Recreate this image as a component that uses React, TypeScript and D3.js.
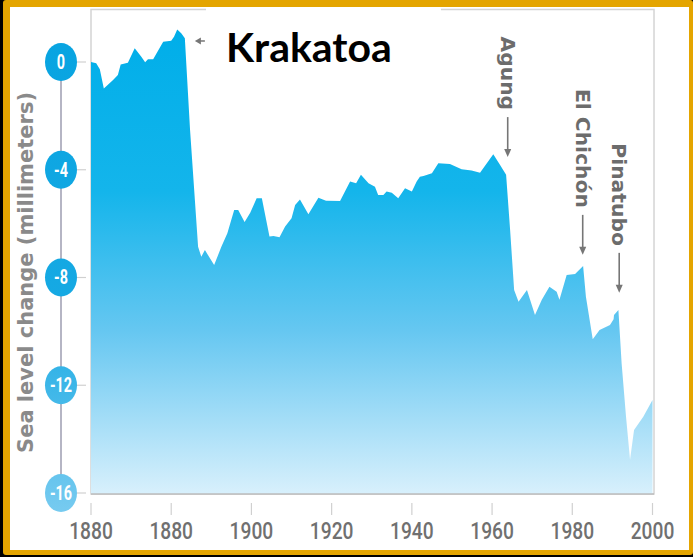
import React from "react";
import * as d3 from "d3";

// ---- data ----
const years = [
  1860.0, 1861.3, 1862.2, 1863.2, 1865.5, 1866.7, 1867.4, 1869.2, 1870.9, 1872.5,
  1873.5, 1874.2, 1875.5, 1878.0, 1880.0, 1880.7, 1881.5, 1882.5, 1883.4, 1884.7,
  1885.9, 1886.7, 1887.5, 1888.4, 1890.7, 1892.5, 1894.0, 1895.7, 1896.7, 1898.3,
  1899.7, 1901.3, 1902.6, 1904.5, 1905.5, 1907.0, 1908.4, 1910.0, 1910.9, 1912.1,
  1914.2, 1916.7, 1918.6, 1922.1, 1924.6, 1926.1, 1927.3, 1929.2, 1930.8, 1931.6,
  1932.9, 1933.7, 1935.0, 1936.6, 1938.3, 1940.0, 1941.2, 1942.0, 1942.9, 1945.0,
  1946.6, 1949.5, 1952.4, 1954.9, 1957.0, 1960.3, 1962.0, 1963.5, 1964.5, 1965.5,
  1966.6, 1968.7, 1970.7, 1972.4, 1974.3, 1976.1, 1976.8, 1978.6, 1980.7, 1982.7,
  1983.4, 1985.1, 1986.8, 1989.4, 1990.3, 1990.4, 1991.5, 1992.3, 1993.4, 1994.4,
  1995.4, 1997.7, 2000.0,
];
const seaLevel = [
  0.0, -0.05, -0.27, -0.98, -0.67, -0.48, -0.09, -0.03, 0.51, 0.2,
  -0.01, 0.1, 0.1, 0.75, 0.79, 0.94, 1.21, 1.07, 0.88, -2.52,
  -5.12, -6.86, -7.23, -6.98, -7.54, -6.86, -6.36, -5.49, -5.49, -5.94,
  -5.6, -5.06, -5.06, -6.48, -6.46, -6.51, -6.11, -5.8, -5.31, -5.1,
  -5.65, -5.04, -5.15, -5.16, -4.44, -4.5, -4.19, -4.5, -4.63, -4.94,
  -4.94, -4.81, -4.85, -5.06, -4.69, -4.81, -4.44, -4.26, -4.23, -4.13,
  -3.76, -3.79, -3.98, -4.03, -4.11, -3.42, -3.82, -4.19, -6.24, -8.46,
  -8.9, -8.46, -9.39, -8.83, -8.34, -8.53, -8.83, -7.91, -7.87, -7.57,
  -8.71, -10.29, -9.95, -9.76, -9.55, -9.39, -9.21, -11.18, -13.17, -14.77,
  -13.66, -13.17, -12.55,
];

const xTickValues = [1860, 1880, 1900, 1920, 1940, 1960, 1980, 2000];
const xTickLabels = ["1880", "1880", "1900", "1920", "1940", "1960", "1980", "2000"];
const yTickValues = [0, -4, -8, -12, -16];
const yTickLabels = ["0", "-4", "-8", "-12", "-16"];

const volcanoNames = ["Agung", "El Chichón", "Pinatubo"];
const volcanoYears = [1963.9, 1982.6, 1991.7];
const volcanoTipValues = [-3.53, -7.16, -8.57];

const krakatoaLabel = "Krakatoa";
const krakatoaYear = 1885.9;
const krakatoaValue = 0.78;

const yTitle = "Sea level change (millimeters)";

export default function App() {
  const W = 693;
  const H = 557;
  const x = d3.scaleLinear().domain([1860, 2000]).range([91, 652.5]);
  const y = d3.scaleLinear().domain([0, -16]).range([62, 493]);

  const data = years.map((yr, i) => ({ yr, v: seaLevel[i] }));
  const area = d3
    .area<{ yr: number; v: number }>()
    .x((d) => x(d.yr))
    .y0(y(-16) + 1)
    .y1((d) => y(d.v))
    .curve(d3.curveLinear);

  const plotTop = 9.5;
  const plotBottom = 494;
  const plotLeft = 91;
  const plotRight = 654;

  const grey = "#767676";

  return (
    <svg
      width={W}
      height={H}
      style={{ position: "absolute", left: 0, top: 0 }}
      xmlns="http://www.w3.org/2000/svg"
    >
      <defs>
        <linearGradient id="fillGrad" gradientUnits="userSpaceOnUse" x1="0" y1="29" x2="0" y2="494">
          <stop offset="0" stopColor="#00aee9" />
          <stop offset="0.35" stopColor="#14b5eb" />
          <stop offset="0.65" stopColor="#66c7f1" />
          <stop offset="1" stopColor="#d8f0fc" />
        </linearGradient>
        <linearGradient id="badgeGrad" gradientUnits="userSpaceOnUse" x1="0" y1="40" x2="0" y2="515">
          <stop offset="0" stopColor="#08a4e1" />
          <stop offset="0.55" stopColor="#16a9e3" />
          <stop offset="1" stopColor="#78cbf0" />
        </linearGradient>
      </defs>

      {/* frame background */}
      <rect x={0} y={0} width={W} height={H} fill="#000" />
      <rect x={3} y={0} width={690} height={555} fill="#e4a500" rx={3} />
      <rect x={10} y={7} width={679} height={543} fill="#ffffff" />

      {/* plot frame */}
      <rect
        x={plotLeft}
        y={plotTop}
        width={plotRight - plotLeft}
        height={plotBottom - plotTop}
        fill="none"
        stroke="#d4d4d4"
        strokeWidth={1.5}
      />

      {/* area */}
      <path d={area(data) || ""} fill="url(#fillGrad)" />

      <line x1={plotLeft} x2={plotRight} y1={plotBottom} y2={plotBottom} stroke="#bcbcbc" strokeWidth={1.5} />

      {/* Krakatoa label box */}
      <rect x={206} y={7.5} width={235} height={64} fill="#ffffff" />
      <text
        x={226}
        y={62}
        fontFamily="Lato, 'Open Sans', sans-serif"
        fontWeight={700}
        fontSize={41}
        fill="#000"
      >
        {krakatoaLabel}
      </text>
      {/* Krakatoa arrow */}
      <g stroke="none" fill={grey}>
        <line
          x1={x(krakatoaYear) + 3}
          x2={x(krakatoaYear) + 10}
          y1={y(krakatoaValue)}
          y2={y(krakatoaValue)}
          stroke={grey}
          strokeWidth={1.5}
        />
        <path d={`M${x(krakatoaYear)},${y(krakatoaValue)} l6,-3.5 l0,7 z`} />
      </g>

      {/* volcano annotations */}
      {volcanoNames.map((name, i) => {
        const ax = x(volcanoYears[i]);
        const tip = y(volcanoTipValues[i]);
        const top = tip - 40;
        return (
          <g key={name}>
            <line x1={ax} x2={ax} y1={top} y2={tip - 6} stroke={grey} strokeWidth={1.6} />
            <path d={`M${ax},${tip} l-3.5,-8 l7,0 z`} fill={grey} />
            <text
              transform={`translate(${ax},${top - 7}) rotate(90)`}
              textAnchor="end"
              dominantBaseline="central"
              fontFamily="'DejaVu Sans', sans-serif"
              fontWeight={700}
              fontSize={20.3}
              fill="#6c6c6c"
            >
              {name}
            </text>
          </g>
        );
      })}

      {/* y axis */}
      <line x1={61} x2={61} y1={y(0)} y2={y(-16)} stroke="#9c9cb0" strokeWidth={1.5} />
      {yTickValues.map((v, i) => (
        <g key={v}>
          <line x1={77} x2={86} y1={y(v)} y2={y(v)} stroke="#d0d0d0" strokeWidth={1.2} />
          <ellipse cx={61} cy={y(v)} rx={16} ry={19} fill="url(#badgeGrad)" />
          <text
            transform={`translate(61,${y(v)}) scale(0.72,1)`}
            textAnchor="middle"
            dominantBaseline="central"
            fontFamily="Roboto, sans-serif"
            fontWeight={700}
            fontSize={20}
            fill="#ffffff"
          >
            {yTickLabels[i]}
          </text>
        </g>
      ))}
      <text
        transform={`translate(33,272.5) rotate(-90)`}
        textAnchor="middle"
        fontFamily="'DejaVu Sans', sans-serif"
        fontWeight={700}
        fontSize={21}
        fill="#8a8a8a"
      >
        {yTitle}
      </text>

      {/* x axis */}
      {xTickValues.map((t, i) => (
        <g key={t}>
          <line x1={x(t)} x2={x(t)} y1={503} y2={515} stroke="#d0d0d0" strokeWidth={1.2} />
          <text
            transform={`translate(${x(t)},538.5) scale(0.8,1)`}
            textAnchor="middle"
            fontFamily="Roboto, sans-serif"
            fontWeight={500}
            fontSize={24}
            fill="#707070"
          >
            {xTickLabels[i]}
          </text>
        </g>
      ))}
    </svg>
  );
}
